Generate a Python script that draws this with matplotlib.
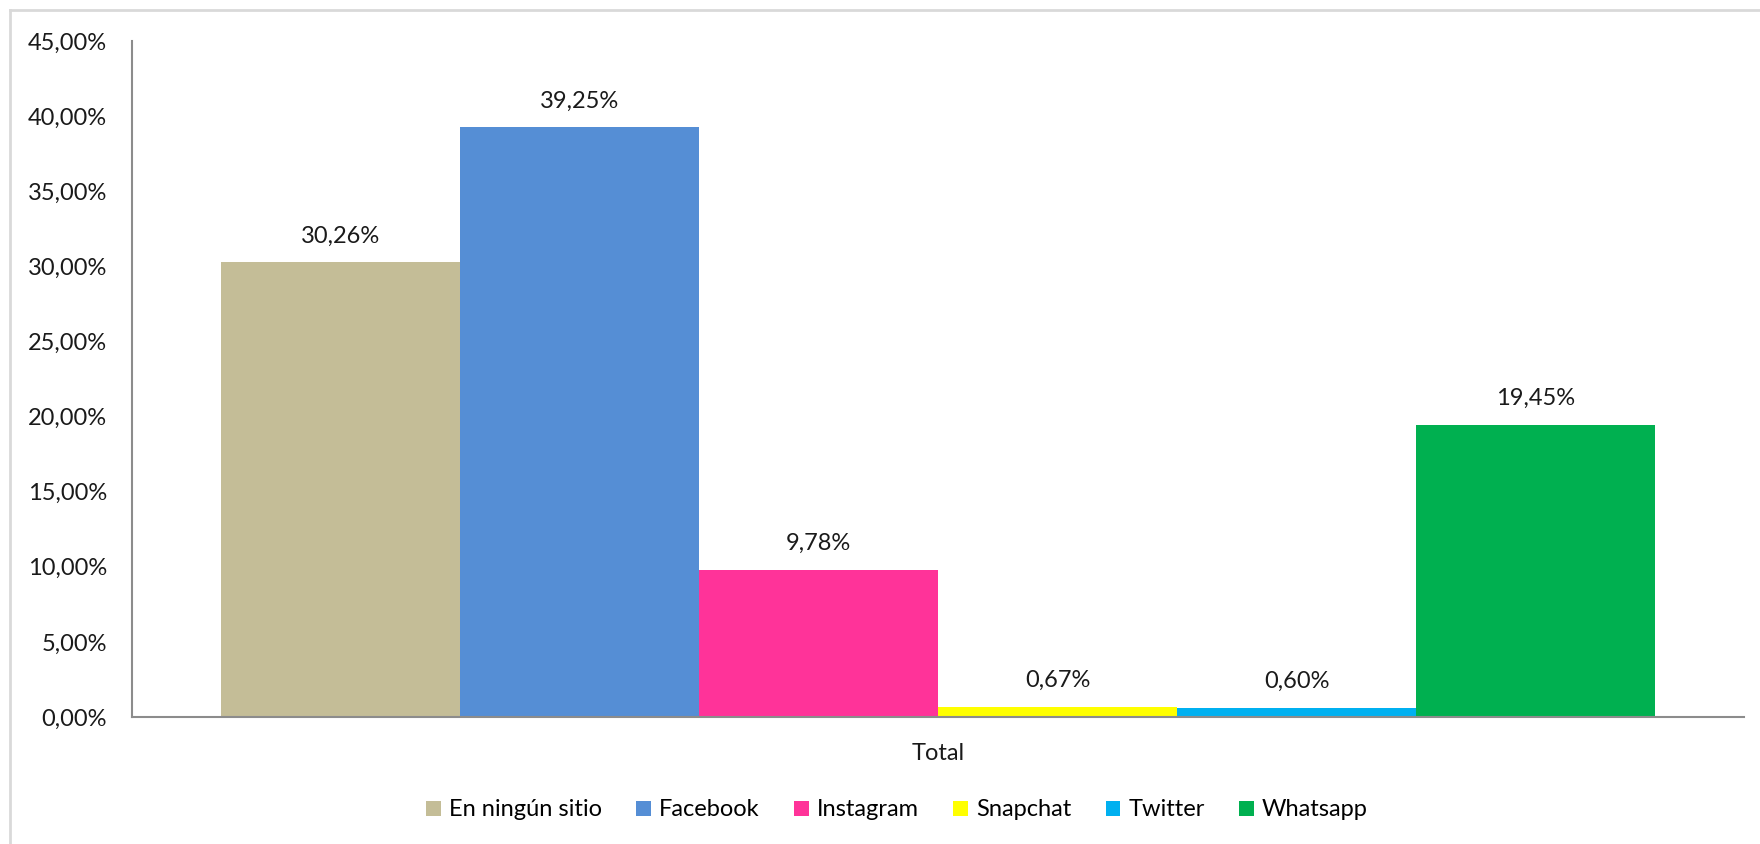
import matplotlib.pyplot as plt
from matplotlib.ticker import FuncFormatter
from matplotlib.lines import Line2D

# Data
categories = ['En ningún sitio', 'Facebook', 'Instagram', 'Snapchat', 'Twitter', 'Whatsapp']
values = [30.26, 39.25, 9.78, 0.67, 0.60, 19.45]
colors = ['#C4BD97', '#558ED5', '#FF3399', '#FFFF00', '#00B0F0', '#00B050']
group_label = 'Total'
y_ticks = [0, 5, 10, 15, 20, 25, 30, 35, 40, 45]

plt.rcParams['font.family'] = ['Lato', 'DejaVu Sans']

fig = plt.figure(figsize=(17.6, 8.44), dpi=100)
ax = fig.add_axes([132 / 1760, 1 - 717 / 844, 1612 / 1760, 676 / 844])

x = range(len(categories))
bars = ax.bar(x, values, width=1.0, color=colors, label=categories)

for xi, v in zip(x, values):
    ax.annotate(f'{v:.2f}%'.replace('.', ','), xy=(xi, v), xytext=(0, 19),
                textcoords='offset points', ha='center', va='center',
                fontsize=17, color='#1a1a1a')

gap = 89 / 239
ax.set_xlim(-0.5 - gap, len(categories) - 0.5 + gap)
ax.set_ylim(0, 45)
ax.set_yticks(y_ticks)
ax.yaxis.set_major_formatter(FuncFormatter(lambda v, p: f'{v:.2f}%'.replace('.', ',')))
ax.set_xticks([(len(categories) - 1) / 2])
ax.set_xticklabels([group_label])
ax.tick_params(axis='both', length=0, labelsize=17, labelcolor='#1a1a1a')
ax.tick_params(axis='y', pad=18)
ax.tick_params(axis='x', pad=19)

for s in ['top', 'right']:
    ax.spines[s].set_visible(False)
for s in ['left', 'bottom']:
    ax.spines[s].set_color('#8c8c8c')
    ax.spines[s].set_linewidth(1.5)

# chart area border (top and left visible)
fig.add_artist(Line2D([10 / 1760, 10 / 1760], [0, 1 - 10 / 844], color='#d9d9d9', lw=2))
fig.add_artist(Line2D([10 / 1760, 1], [1 - 10 / 844, 1 - 10 / 844], color='#d9d9d9', lw=2))

fig.legend(handles=bars.patches, labels=categories, loc='center',
           bbox_to_anchor=(897 / 1760, 34 / 844), ncol=6, frameon=False,
           fontsize=17, handlelength=0.62, handleheight=0.62,
           handletextpad=0.35, columnspacing=1.45)

fig.savefig('out.png', dpi=100)
